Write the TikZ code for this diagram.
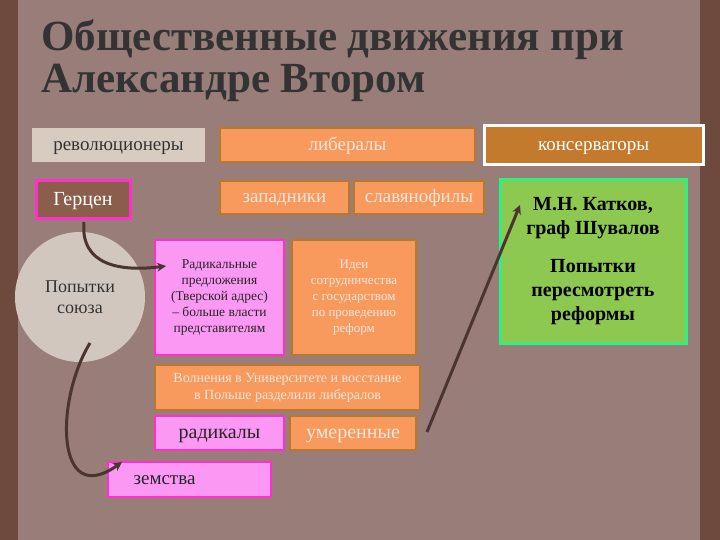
\documentclass[tikz,border=0pt]{standalone}
\usepackage{fontspec}
\setmainfont{Liberation Serif}
\usetikzlibrary{arrows.meta}
\definecolor{bgc}{HTML}{987D78}
\definecolor{edge}{HTML}{6E4A3E}
\definecolor{orf}{HTML}{F89A5E}
\definecolor{ord}{HTML}{B8782F}
\definecolor{pkf}{HTML}{FB98F4}
\definecolor{pkd}{HTML}{FF30CC}
\definecolor{ltx}{HTML}{F8E6DA}
\definecolor{arr}{HTML}{4A3530}
\tikzset{
 obox/.style={draw=ord,line width=2pt,fill=orf,text=ltx,align=center,inner sep=1pt},
 pbox/.style={draw=pkd,line width=2pt,fill=pkf,text=black!85,align=center,inner sep=1pt},
 one/.style={text height=2.2ex,text depth=0pt},
 conn/.style={draw=arr,line width=3pt,-{Stealth[length=9pt,width=9pt]}}
}
\begin{document}
\begin{tikzpicture}[x=1pt,y=-1pt]
\useasboundingbox (0,0) rectangle (720,540);
\fill[edge] (0,0) rectangle (720,540);
\fill[bgc] (18,0) rectangle (700,540);
\node[anchor=west,text=black!80,font=\bfseries\fontsize{43}{46}\selectfont] (t1) at (38,40) {Общественные движения при};
\node[anchor=west,text=black!80,font=\bfseries\fontsize{43}{46}\selectfont] (t2) at (38,83) {Александре Втором};
\node[one,fill={rgb,255:red,216;green,203;blue,192},minimum width=173pt,minimum height=34pt,text=black!80,font=\fontsize{19}{21}\selectfont] (rev) at (118.5,145) {революционеры};
\node[obox,one,minimum width=255pt,minimum height=34pt,font=\fontsize{19}{21}\selectfont] (lib) at (347.5,145) {либералы};
\node[one,draw=white,line width=3pt,fill={rgb,255:red,196;green,122;blue,44},text=white,minimum width=219pt,minimum height=39pt,font=\fontsize{19}{21}\selectfont] (kons) at (593.5,145) {консерваторы};
\node[one,draw=pkd,line width=3pt,fill={rgb,255:red,138;green,94;blue,74},text=white,minimum width=94pt,minimum height=38pt,font=\fontsize{20}{22}\selectfont] (ger) at (83,200) {Герцен};
\node[obox,one,minimum width=129pt,minimum height=33pt,font=\fontsize{19}{21}\selectfont] (zap) at (284.5,197.5) {западники};
\node[obox,one,minimum width=130pt,minimum height=33pt,font=\fontsize{19}{21}\selectfont] (slav) at (419,197.5) {славянофилы};
\node[draw={rgb,255:red,48;green,240;blue,128},line width=3pt,fill={rgb,255:red,141;green,200;blue,80},minimum width=186pt,minimum height=163pt,align=center,font=\bfseries\fontsize{20}{24}\selectfont] (kat) at (593,261.5) {М.Н. Катков,\\граф Шувалов\\[14pt]Попытки\\пересмотреть\\реформы};
\node[circle,fill={rgb,255:red,210;green,199;blue,191},minimum size=130pt,text=black!80,align=center,font=\fontsize{18}{21}\selectfont] (cir) at (80,297) {Попытки\\союза};
\node[pbox,minimum width=129pt,minimum height=115pt,font=\fontsize{13.5}{16}\selectfont] (rad) at (219.5,297.5) {Радикальные\\предложения\\(Тверской адрес)\\– больше власти\\представителям};
\node[obox,minimum width=124pt,minimum height=115pt,font=\fontsize{13}{16}\selectfont] (idei) at (354,297.5) {Идеи\\сотрудничества\\с государством\\по проведению\\реформ};
\node[obox,minimum width=265pt,minimum height=45pt,font=\fontsize{14}{17}\selectfont] (voln) at (287.5,387.5) {Волнения в Университете и восстание\\в Польше разделили либералов};
\node[pbox,one,minimum width=129pt,minimum height=34pt,font=\fontsize{20}{22}\selectfont] (radk) at (219.5,433) {радикалы};
\node[obox,one,minimum width=126pt,minimum height=34pt,font=\fontsize{20}{22}\selectfont] (umer) at (353,433) {умеренные};
\node[pbox,one,minimum width=163pt,minimum height=35pt,font=\fontsize{19}{21}\selectfont] (zem) at (189.5,479.5) {\hspace*{-50pt}земства};
\coordinate (a1) at (84,222);
\coordinate (e1) at (166,266);
\draw[conn] (a1) .. controls (80,265) and (120,272) .. (e1);
\coordinate (a2) at (90,343);
\coordinate (e2) at (122,462);
\draw[conn] (a2) .. controls (55,400) and (55,510) .. (e2);
\coordinate (a3) at (427,432);
\coordinate (e3) at (520,205);
\draw[conn] (a3) -- (e3);
\end{tikzpicture}
\end{document}
